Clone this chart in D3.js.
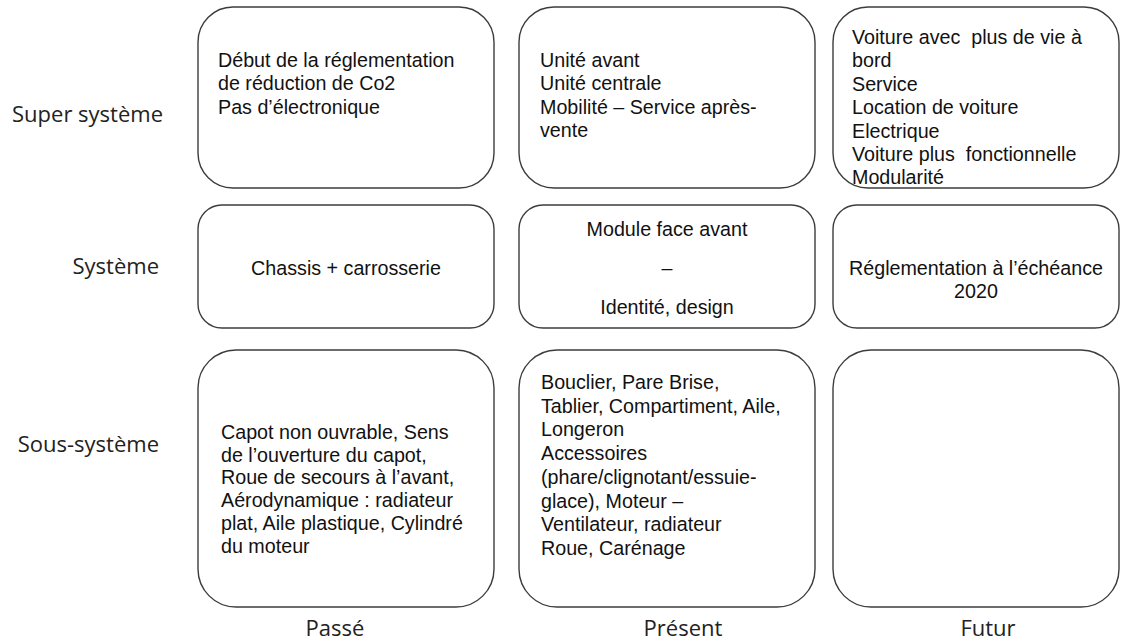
<!DOCTYPE html>
<html><head><meta charset="utf-8">
<script src="https://cdn.jsdelivr.net/npm/d3@7"></script>
<style>body{margin:0;background:#fff}svg{display:block}</style>
</head><body>
<svg id="c" width="1121" height="642"></svg>
<script>
// ---- data ----
const rowLabels = ["Super système", "Système", "Sous-système"];
const colLabels = ["Passé", "Présent", "Futur"];
const superTexts = [
  ["Début de la réglementation", "de réduction de Co2", "Pas d’électronique"],
  ["Unité avant", "Unité centrale", "Mobilité – Service après-", "vente"],
  ["Voiture avec  plus de vie à", "bord", "Service", "Location de voiture", "Electrique", "Voiture plus  fonctionnelle", "Modularité"]
];
const systemTexts = [
  ["Chassis + carrosserie"],
  ["Module face avant", "–", "Identité, design"],
  ["Réglementation à l’échéance", "2020"]
];
const sousTexts = [
  ["Capot non ouvrable, Sens", "de l’ouverture du capot,", "Roue de secours à l’avant,", "Aérodynamique : radiateur", "plat, Aile plastique, Cylindré", "du moteur"],
  ["Bouclier, Pare Brise,", "Tablier, Compartiment, Aile,", "Longeron", "Accessoires", "(phare/clignotant/essuie-", "glace), Moteur –", "Ventilateur, radiateur", "Roue, Carénage"],
  []
];

// ---- layout ----
const svg = d3.select("#c");
const colX = [[198, 494], [519, 815], [833, 1119]];
const rowY = [[7, 188], [205, 328], [350, 607]];
const rowRadius = [35, 24, 38];
const rowLabelY = [113, 265, 443];
const colLabelX = [335, 683, 988];

const cells = [];
[superTexts, systemTexts, sousTexts].forEach((row, r) => {
  row.forEach((lines, c) => cells.push({r, c, lines}));
});
// per-cell text layout: absolute first-line y, line step
const cellLayout = {
  "0-0": {anchor: "start", x0: 20, y: 60, lh: 23.4},
  "0-1": {anchor: "start", x0: 21, y: 60, lh: 23.4},
  "0-2": {anchor: "start", x0: 19, y: 37, lh: 23.4},
  "1-0": {anchor: "middle", y: 268, lh: 23},
  "1-1": {anchor: "middle", y: 229, lh: 39},
  "1-2": {anchor: "middle", y: 268, lh: 22.5},
  "2-0": {anchor: "start", x0: 23, y: 432, lh: 22.7},
  "2-1": {anchor: "start", x0: 22, y: 382, lh: 23.7},
  "2-2": {anchor: "start", x0: 22, y: 382, lh: 23.7}
};

const g = svg.selectAll("g.cell").data(cells).join("g").attr("class", "cell");
g.append("rect")
  .attr("x", d => colX[d.c][0])
  .attr("y", d => rowY[d.r][0])
  .attr("width", d => colX[d.c][1] - colX[d.c][0])
  .attr("height", d => rowY[d.r][1] - rowY[d.r][0])
  .attr("rx", d => rowRadius[d.r]).attr("ry", d => rowRadius[d.r])
  .attr("fill", "#fff").attr("stroke", "#3c3c3c").attr("stroke-width", 1.4);

g.each(function(d) {
  const L = cellLayout[d.r + "-" + d.c];
  const x = L.anchor === "middle" ? (colX[d.c][0] + colX[d.c][1]) / 2 : colX[d.c][0] + L.x0;
  d3.select(this).selectAll("text").data(d.lines).join("text")
    .attr("x", x)
    .attr("y", (t, i) => L.y + i * L.lh)
    .attr("dominant-baseline", "central")
    .attr("text-anchor", L.anchor)
    .attr("font-family", "Liberation Sans, Arial, sans-serif")
    .attr("font-size", 19.7)
    .attr("fill", "#111")
    .style("white-space", "pre")
    .text(t => t);
});

svg.selectAll("text.rowlab").data(rowLabels).join("text").attr("class", "rowlab")
  .attr("x", (d, i) => i === 0 ? 163 : 159).attr("y", (d, i) => rowLabelY[i])
  .attr("text-anchor", "end").attr("dominant-baseline", "central")
  .attr("font-family", "Open Sans, sans-serif").attr("font-size", 22).attr("fill", "#222")
  .text(d => d);

svg.selectAll("text.collab").data(colLabels).join("text").attr("class", "collab")
  .attr("x", (d, i) => colLabelX[i]).attr("y", 627)
  .attr("text-anchor", "middle").attr("dominant-baseline", "central")
  .attr("font-family", "Open Sans, sans-serif").attr("font-size", 22).attr("fill", "#222")
  .text(d => d);
</script>
</body></html>
